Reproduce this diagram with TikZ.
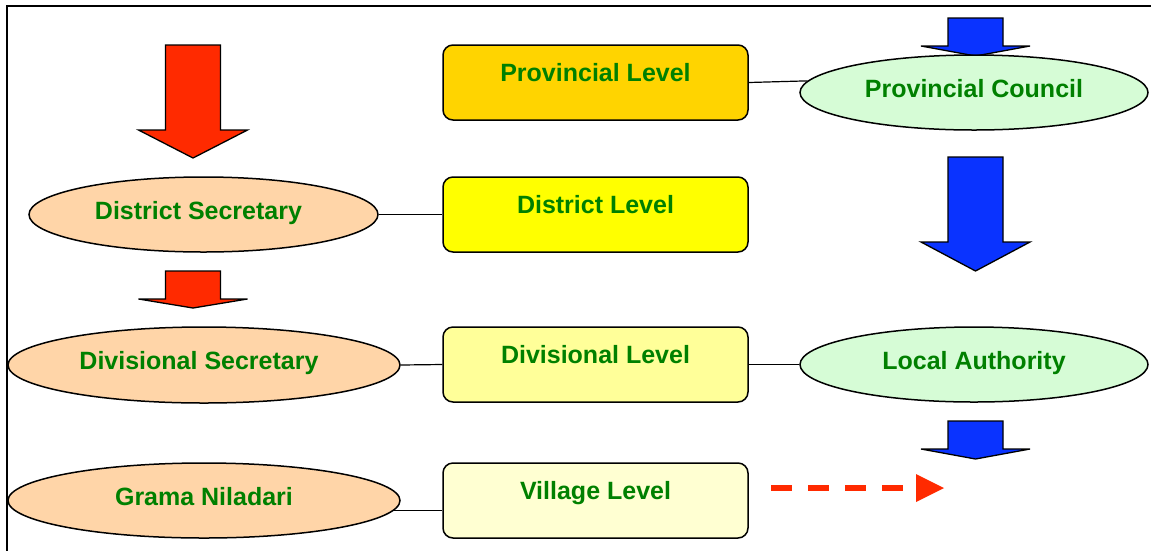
\documentclass[tikz,border=0pt]{standalone}
\usepackage{fontspec}
\setmainfont{Liberation Sans}
\usetikzlibrary{shapes.geometric}
\definecolor{txtgreen}{RGB}{0,128,0}
\definecolor{provfill}{RGB}{255,212,0}
\definecolor{distfill}{RGB}{255,255,0}
\definecolor{divfill}{RGB}{255,255,153}
\definecolor{villfill}{RGB}{255,255,210}
\definecolor{peach}{RGB}{255,213,168}
\definecolor{mint}{RGB}{214,252,214}
\definecolor{arrred}{RGB}{255,42,0}
\definecolor{arrblue}{RGB}{10,51,255}
\newcommand{\mydownarrow}[5]{%
  \draw[#1] (#2-27.5,#3) -- (#2+27.5,#3) -- (#2+27.5,#4) -- (#2+54.5,#4)
    -- (#2,#5) -- (#2-54.5,#4) -- (#2-27.5,#4) -- cycle;}
\tikzset{
  lbl/.style={font=\fontsize{25}{29}\selectfont\bfseries, text=txtgreen, inner sep=0pt},
  levelbox/.style={lbl, draw=black, line width=1.5pt, rounded corners=10pt,
    minimum width=305pt, minimum height=75pt, text height=17pt, text depth=19pt},
  officeell/.style={lbl, ellipse, draw=black, line width=1.5pt, fill=peach,
    minimum height=75pt, text height=17pt, text depth=8pt},
  councilell/.style={lbl, ellipse, draw=black, line width=1.5pt, fill=mint,
    minimum width=348pt, minimum height=75pt, text height=17pt, text depth=8pt},
  conn/.style={draw=black, line width=1.2pt},
  redblock/.style={fill=arrred, draw=black, line width=1.3pt, line join=miter},
  blueblock/.style={fill=arrblue, draw=black, line width=1.3pt, line join=miter},
  frameline/.style={draw=black, line width=2.2pt}
}
\begin{document}
\begin{tikzpicture}[x=1pt,y=-1pt]
\useasboundingbox (0,0) rectangle (1156,550);
\fill[white] (0,0) rectangle (1156,550);
% frame
\coordinate (f1) at (7,550);
\coordinate (f2) at (7,6);
\coordinate (f3) at (1150,6);
\draw[frameline, line cap=rect] (f1) -- (f2) -- (f3);

% block arrows
\mydownarrow{redblock}{193}{45}{130}{158}
\mydownarrow{redblock}{193}{271}{299}{308}
\mydownarrow{blueblock}{975.5}{18}{46}{56}
\mydownarrow{blueblock}{975.5}{157}{242}{271}
\mydownarrow{blueblock}{975.5}{421}{449}{459}

% level boxes
\node[levelbox, fill=provfill] (pl) at (595.5,82.5) {Provincial Level};
\node[levelbox, fill=distfill] (dl) at (595.5,214.5) {District Level};
\node[levelbox, fill=divfill] (dvl) at (595.5,364.5) {Divisional Level};
\node[levelbox, fill=villfill] (vl) at (595.5,500.5) {Village Level};

% left ellipses
\node[officeell, minimum width=349pt] (ds) at (203.5,214.5) {District Secretary\kern10pt};
\node[officeell, minimum width=392pt, minimum height=76pt] (dvs) at (204,365) {Divisional Secretary\kern10pt};
\node[officeell, minimum width=392pt] (gn) at (204,500.5) {Grama Niladari};

% right ellipses
\node[councilell] (pc) at (974,92.5) {Provincial Council};
\node[councilell] (la) at (974,364.5) {Local Authority};

% connectors
\draw[conn] (pl.east) -- (pc.176.8);
\draw[conn] (ds.east) -- (dl.west);
\draw[conn] (dvs.east) -- (dvl.west);
\draw[conn] (dvl.east) -- (la.west);
\draw[conn] (gn.-3.5) -- (vl.west |- gn.-3.5);

% red dashed arrow
\coordinate (da) at (771,488);
\coordinate (db) at (903,488);
\coordinate (dt) at (944,488);
\draw[arrred, line width=5.5pt, dash pattern=on 21pt off 16pt] (da) -- (db);
\fill[arrred] (916,474) -- (dt) -- (916,502) -- cycle;
\end{tikzpicture}
\end{document}
